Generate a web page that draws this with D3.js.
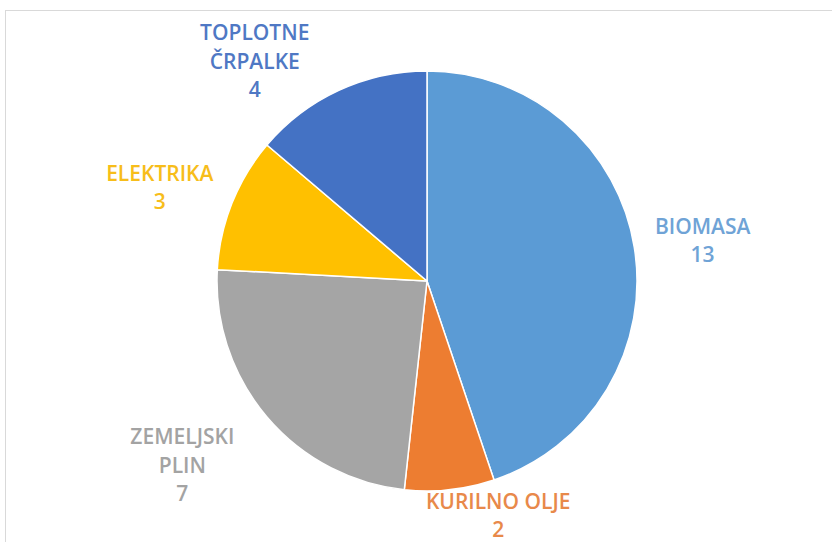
<!DOCTYPE html>
<html>
<head>
<meta charset="utf-8">
<script src="https://cdn.jsdelivr.net/npm/d3@7"></script>
<style>
  html, body { margin: 0; padding: 0; background: #fff; }
  svg { display: block; }
</style>
</head>
<body>
<svg id="chart" width="832" height="542"></svg>
<script>
// Heating sources: categories, counts and slice colours
const categories = ["BIOMASA", "KURILNO OLJE", "ZEMELJSKI PLIN", "ELEKTRIKA", "TOPLOTNE ČRPALKE"];
const values = [13, 2, 7, 3, 4];
const sliceColors = ["#5b9bd5", "#ed7d31", "#a5a5a5", "#ffc000", "#4472c4"];
const labelColors = ["#6fa3d6", "#e8894a", "#a3a3a3", "#f7bd1a", "#4f78c4"];
// label lines, as broken in the chart
const labelLines = [["BIOMASA"], ["KURILNO OLJE"], ["ZEMELJSKI", "PLIN"], ["ELEKTRIKA"], ["TOPLOTNE", "ČRPALKE"]];

const W = 832, H = 542;
const cx = 427, cy = 281, radius = 210;
// label placement: distance from centre (in radii) and nudges
const labelRadius = [1.33, 1.11, 1.46, 1.37, 1.33];
const labelNudgeX = [0, 46, -11, 0, -55];
const labelNudgeY = [5, 3, -14, 13, 34];
const lineH = 28.5;

const svg = d3.select("#chart");

// chart area frame
svg.append("rect")
  .attr("x", 5.5).attr("y", 10.5)
  .attr("width", W + 10).attr("height", H + 10)
  .attr("fill", "#fff")
  .attr("stroke", "#d9d9d9").attr("stroke-width", 1);

const data = categories.map((c, i) => ({ name: c, value: values[i], i }));

const pie = d3.pie().value(d => d.value).sort(null);
const arcs = pie(data);
const arc = d3.arc().innerRadius(0).outerRadius(radius);

const g = svg.append("g").attr("transform", `translate(${cx},${cy})`);

g.selectAll("path.slice")
  .data(arcs)
  .join("path")
  .attr("class", "slice")
  .attr("d", arc)
  .attr("fill", d => sliceColors[d.data.i])
  .attr("stroke", "#fff")
  .attr("stroke-width", 1.5)
  .attr("stroke-linejoin", "round");

// data labels: category name then value
g.selectAll("text.lbl")
  .data(arcs)
  .join("text")
  .attr("class", "lbl")
  .attr("text-anchor", "middle")
  .attr("font-family", "'Open Sans', sans-serif")
  .attr("font-weight", 600)
  .attr("font-size", 21)
  .attr("fill", d => labelColors[d.data.i])
  .each(function(d) {
    const i = d.data.i;
    const mid = (d.startAngle + d.endAngle) / 2;
    const r = radius * labelRadius[i];
    const x = Math.sin(mid) * r + labelNudgeX[i];
    const y = -Math.cos(mid) * r + labelNudgeY[i];
    const lines = labelLines[i].concat([String(d.data.value)]);
    const top = y - (lines.length - 1) * lineH / 2;
    const t = d3.select(this);
    lines.forEach((s, k) => {
      t.append("tspan")
        .attr("x", x)
        .attr("y", top + k * lineH)
        .attr("dy", "0.35em")
        .text(s);
    });
  });
</script>
</body>
</html>
